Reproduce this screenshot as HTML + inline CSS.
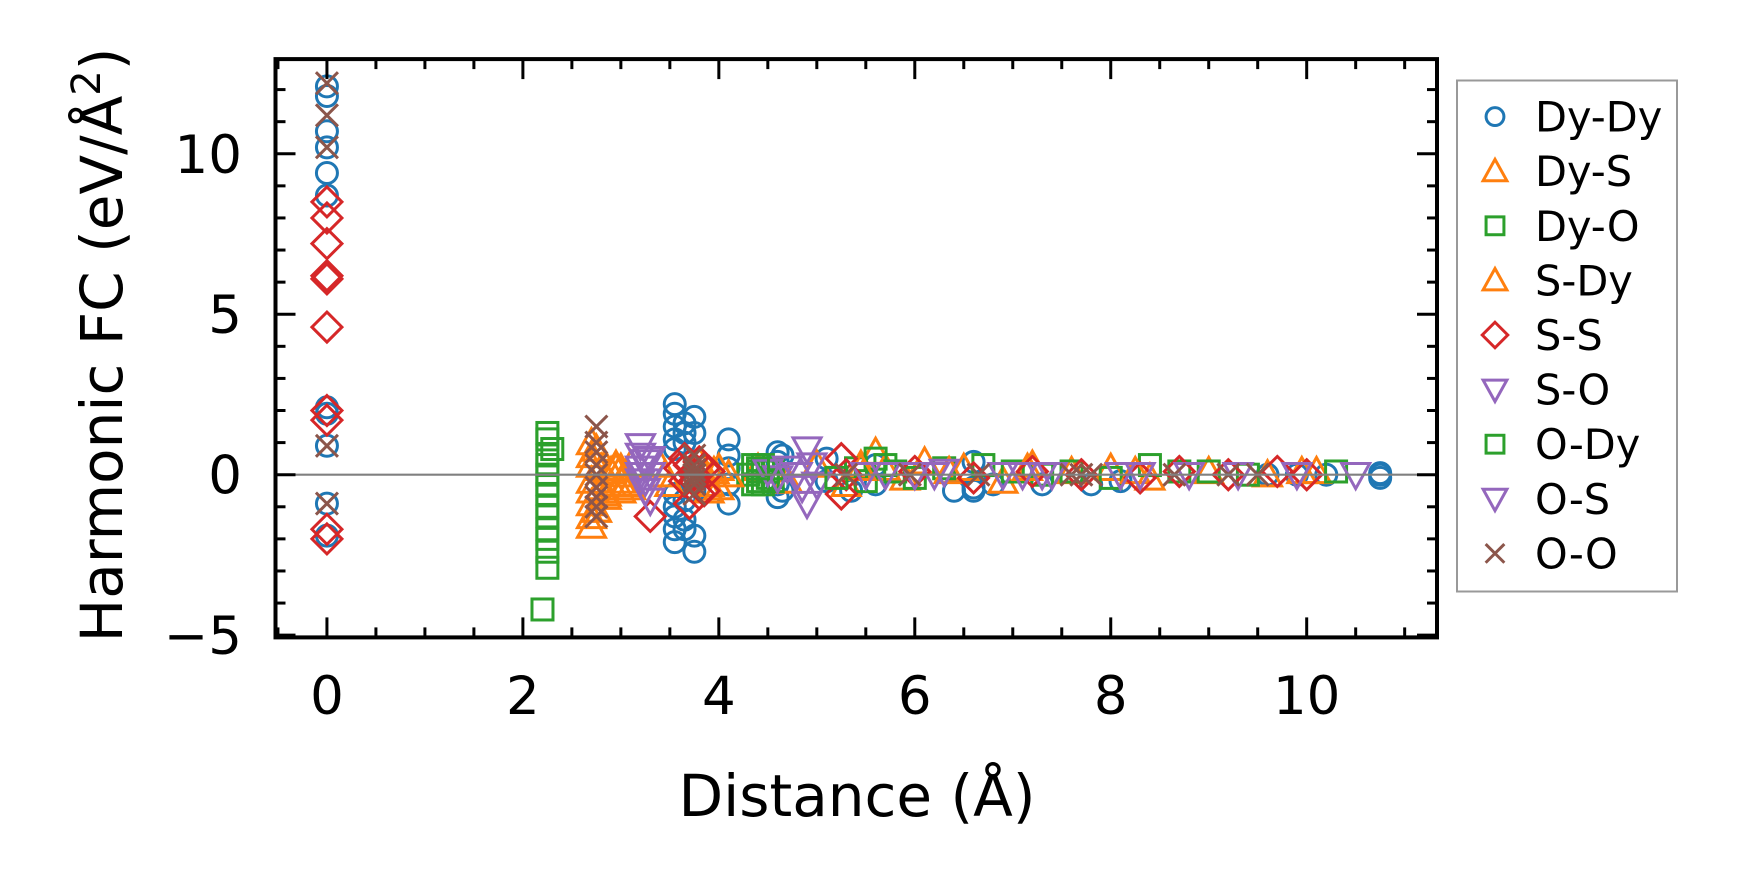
<!DOCTYPE html>
<html><head><meta charset="utf-8"><style>
html,body{margin:0;padding:0;background:#fff;}
svg{display:block;font-family:"DejaVu Sans","Liberation Sans",sans-serif;}
</style></head><body>
<svg id="chart" width="1737" height="883" viewBox="0 0 1737 883">
<rect width="1737" height="883" fill="#fff"/>
<g id="marks"></g>
<g id="axes"></g>
<g id="legend"></g>
</svg>
<script>
// ---- data ----
const xTicks=[0,2,4,6,8,10];
const yTicks=[-5,0,5,10];
const seriesNames=["Dy-Dy","Dy-S","Dy-O","S-Dy","S-S","S-O","O-Dy","O-S","O-O"];
const dyDyX=[0,0,0,0,0,0,0,0,0,0,0,3.55,3.55,3.55,3.55,3.55,3.55,3.55,3.55,3.55,3.55,3.65,3.65,3.65,3.65,3.65,3.65,3.75,3.75,3.75,3.75,3.75,4.1,4.1,4.1,4.1,4.1,4.6,4.6,4.6,4.6,4.65,4.65,5.1,5.1,5.35,5.6,5.6,6.4,6.6,6.6,6.6,6.8,7.3,7.8,8.1,9.6,9.9,10.2,10.75,10.75,10.75];
const dyDyY=[12.1,11.8,10.7,10.2,9.4,8.7,2.1,1.9,0.9,-0.9,-1.9,2.2,1.9,1.5,1.1,0.8,-0.6,-1.0,-1.3,-1.7,-2.1,1.6,1.3,1.0,-0.8,-1.4,-1.7,1.8,1.3,-0.5,-1.9,-2.4,1.1,0.6,0.2,-0.3,-0.9,0.7,0.4,-0.3,-0.7,0.6,-0.5,0.5,-0.2,-0.5,0.3,-0.3,-0.5,0.4,-0.4,-0.5,-0.3,-0.3,-0.3,-0.2,0.0,0.0,0.0,0.05,-0.1,0.0];
const dySX=[2.7,2.7,2.7,2.7,2.7,2.7,2.7,2.7,2.75,2.75,2.8,2.8,2.85,2.9,2.9,2.95,3.0,3.0,3.0,3.05,3.1,3.1,3.4,3.45,3.5,3.8,3.85,3.9,3.95,4.0,4.0,4.4,4.7,5.0,5.3,5.45,5.6,5.7,5.9,6.1,6.5,6.9,7.2,7.6,8.0,8.4,9.0,9.6,10.1];
const dySY=[1.0,0.6,0.3,-0.2,-0.5,-0.9,-1.3,-1.6,0.8,-1.1,0.2,-0.4,-0.7,0.1,-0.3,0.3,0.2,-0.2,-0.5,0.0,0.3,-0.4,0.3,0.0,-0.3,0.4,0.0,-0.3,0.1,-0.4,0.2,0.2,-0.2,0.3,-0.3,0.3,0.7,0.2,-0.1,0.4,0.2,-0.2,0.3,0.1,0.2,-0.1,0.1,0.0,0.1];
const dyOX=[2.25,2.25,2.25,2.25,2.25,2.25,2.25,2.25,2.25,2.25,2.25,2.25,2.25,2.2,4.3,4.35,4.35,4.4,4.4,4.45,4.45,4.5,4.5,4.55,4.55,5.4,5.5,5.6,5.7,5.8,6.0,6.3,6.7,7.0,7.3,7.6,8.0,8.4,8.7,9.0,9.4,10.3];
const dyOY=[1.3,1.1,0.6,0.3,0.0,-0.3,-0.6,-1.0,-1.3,-1.7,-2.0,-2.4,-2.9,-4.2,0.0,0.3,-0.3,0.1,-0.2,0.3,-0.3,0.1,-0.1,0.2,-0.2,0.2,-0.2,0.5,0.3,0.1,-0.1,0.2,0.3,0.1,0.0,0.1,-0.1,0.3,0.1,0.1,0.0,0.1];
const sDyX=[2.75,2.85,2.95,3.05,3.9,4.1,5.45,6.35,7.15,8.25,9.95];
const sDyY=[-1.1,-0.6,0.2,-0.3,-0.5,0.0,0.2,0.1,0.2,0.1,0.1];
const sSX=[0,0,0,0,0,0,0,0,0,0,3.3,3.6,3.65,3.7,3.75,3.8,3.85,3.9,3.7,3.8,3.65,3.75,3.85,5.25,5.25,5.3,6.0,6.6,7.2,7.7,8.3,8.7,9.2,9.7,10.0];
const sSY=[8.5,8.0,7.2,6.2,6.1,4.6,2.0,1.7,-1.7,-2.0,-1.3,0.2,0.5,0.3,-0.2,0.4,-0.5,0.1,-0.9,-0.6,-0.2,0.0,0.2,0.5,-0.6,0.0,0.1,-0.1,0.1,0.0,-0.1,0.1,0.0,0.1,0.0];
const sOX=[3.2,3.2,3.2,3.2,3.25,3.25,3.3,3.3,3.2,3.25,3.3,4.5,4.6,4.7,4.8,4.9,4.9,4.95,5.0,5.7,6.0,6.3,6.9,7.1,7.4,8.1,8.3,8.8,9.3,10.5];
const sOY=[0.9,0.6,0.2,-0.2,-0.5,0.4,-0.8,0.0,0.0,-0.2,0.5,0.1,-0.1,0.2,0.0,0.8,-0.9,0.3,-0.3,0.0,0.0,0.1,0.0,0.0,0.0,0.0,0.0,0.0,0.0,0.0];
const oDyX=[2.3,4.4,5.2];
const oDyY=[0.8,0.2,-0.1];
const oSX=[4.85,5.5,6.2,7.3,9.9];
const oSY=[-0.4,0.0,0.0,0.0,0.0];
const oOX=[0,0,0,0,0,2.75,2.75,2.75,2.75,2.75,2.75,2.75,2.75,2.75,3.75,3.75,3.75,3.75,3.75,3.75,3.75,5.3,5.95,6.65,7.6,7.7,7.8,8.65,9.2,9.5];
const oOY=[12.2,11.2,10.2,0.9,-0.9,1.5,1.0,0.7,0.3,0.0,-0.4,-0.7,-1.0,-1.3,0.6,0.3,0.0,-0.3,-0.6,0.15,-0.15,0.0,0.0,0.0,0.0,0.0,0.0,0.0,0.0,0.0];

// ---- axes mapping ----
const L=275.5,R=1437,T=59.1,B=637.4;
const xMin=-0.525,xMax=11.33,yMin=-5.07,yMax=12.95;
const sx=v=>L+(v-xMin)/(xMax-xMin)*(R-L);
const sy=v=>B-(v-yMin)/(yMax-yMin)*(B-T);
const NS="http://www.w3.org/2000/svg";
function mk(tag,attrs,parent){const e=document.createElementNS(NS,tag);for(const k in attrs)e.setAttribute(k,attrs[k]);parent.appendChild(e);return e;}
const C={blue:"#1f77b4",orange:"#ff7f0e",green:"#2ca02c",red:"#d62728",purple:"#9467bd",brown:"#8c564b"};
function marker(type,cx,cy,color,parent,s){
  s=s||1;let e;
  const st={fill:"none",stroke:color,"stroke-width":3};
  if(type==="o"){e=mk("circle",Object.assign({cx:cx,cy:cy,r:10.5*s},st),parent);}
  else if(type==="^"){const h=14*s;e=mk("polygon",Object.assign({points:`${cx},${cy-h} ${cx+h},${cy+h*0.8} ${cx-h},${cy+h*0.8}`},st),parent);}
  else if(type==="v"){const h=14*s;e=mk("polygon",Object.assign({points:`${cx},${cy+h} ${cx+h},${cy-h*0.8} ${cx-h},${cy-h*0.8}`},st),parent);}
  else if(type==="s"){const h=10.5*s;e=mk("rect",Object.assign({x:cx-h,y:cy-h,width:2*h,height:2*h},st),parent);}
  else if(type==="D"){const h=15*s;e=mk("polygon",Object.assign({points:`${cx},${cy-h} ${cx+h},${cy} ${cx},${cy+h} ${cx-h},${cy}`},st),parent);}
  else {const h=11*s;e=mk("path",{d:`M${cx-h},${cy-h}L${cx+h},${cy+h}M${cx-h},${cy+h}L${cx+h},${cy-h}`,stroke:color,"stroke-width":3,fill:"none"},parent);}
  return e;
}
const marks=document.getElementById("marks");
const series=[
 [dyDyX,dyDyY,"o",C.blue],[dySX,dySY,"^",C.orange],[dyOX,dyOY,"s",C.green],[sDyX,sDyY,"^",C.orange],
 [sSX,sSY,"D",C.red],[sOX,sOY,"v",C.purple],[oDyX,oDyY,"s",C.green],[oSX,oSY,"v",C.purple],[oOX,oOY,"x",C.brown]];
series.forEach((sr,i)=>{
  const g=mk("g",{},marks);
  
  
  sr[0].forEach((x,j)=>{const m=marker(sr[2],sx(x),sy(sr[1][j]),sr[3],g);
    
    });
});
const zl=mk("line",{x1:L,x2:R,y1:sy(0),y2:sy(0),stroke:"#808080","stroke-width":2.2},marks);



// ---- axes ----
const ax=document.getElementById("axes");
const frame=mk("rect",{x:L,y:T,width:R-L,height:B-T,fill:"none",stroke:"#000","stroke-width":4},ax);


for(let v=-0.5;v<=11.01;v+=0.5){const X=sx(v);const major=Math.abs(v%2)<1e-6;const len=major?20:10;
  mk("line",{x1:X,x2:X,y1:B,y2:B-len,stroke:"#000","stroke-width":3},ax);
  mk("line",{x1:X,x2:X,y1:T,y2:T+len,stroke:"#000","stroke-width":3},ax);}
for(let v=-5;v<=12;v+=1){const Y=sy(v);const major=v%5===0;const len=major?20:10;
  mk("line",{x1:L,x2:L+len,y1:Y,y2:Y,stroke:"#000","stroke-width":3},ax);
  mk("line",{x1:R,x2:R-len,y1:Y,y2:Y,stroke:"#000","stroke-width":3},ax);}
xTicks.forEach(v=>{const t=mk("text",{x:sx(v),y:714,"text-anchor":"middle","font-size":53},ax);t.textContent=String(v);
  
  });
yTicks.forEach(v=>{const t=mk("text",{x:242,y:sy(v)+19,"text-anchor":"end","font-size":53},ax);t.textContent=v<0?"\u2212"+Math.abs(v):String(v);
  
  });
const xl=mk("text",{x:857,y:816,"text-anchor":"middle","font-size":58},ax);xl.textContent="Distance (Å)";


const yl=mk("text",{x:0,y:0,"text-anchor":"middle","font-size":58,transform:"translate(122,345) rotate(-90)"},ax);
yl.innerHTML='Harmonic FC (eV/Å<tspan dy="-22" font-size="40">2</tspan><tspan dy="22">)</tspan>';



// ---- legend ----
const lg=document.getElementById("legend");
const box=mk("rect",{x:1457,y:80.5,width:220,height:511,fill:"#fff",stroke:"#999","stroke-width":2},lg);


series.forEach((sr,i)=>{const y=116.6+i*54.6;
  const g=mk("g",{},lg);
  
  
  marker(sr[2],1495,y,sr[3],g,0.85);
  const t=mk("text",{x:1535,y:y+15,"font-size":41.5},g);t.textContent=seriesNames[i];});
</script>
</body></html>
